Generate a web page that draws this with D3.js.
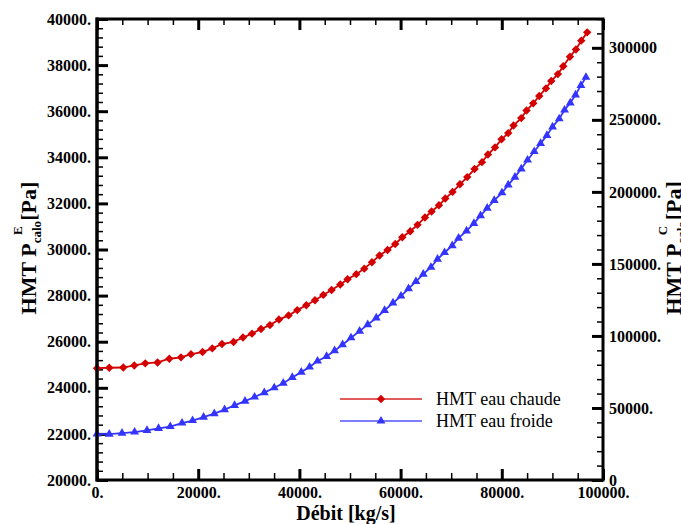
<!DOCTYPE html>
<html>
<head>
<meta charset="utf-8">
<script src="https://cdn.jsdelivr.net/npm/d3@7"></script>
<style>
  html, body { margin: 0; padding: 0; background: #fff; }
  svg { display: block; }
</style>
</head>
<body>
<svg id="chart" width="681" height="524"></svg>
<script>
// ---- data ----
const xTicks = [0, 20000, 40000, 60000, 80000, 100000];
const xTickLabels = ["0.", "20000.", "40000.", "60000.", "80000.", "100000."];
const yLeftTicks = [20000, 22000, 24000, 26000, 28000, 30000, 32000, 34000, 36000, 38000, 40000];
const yLeftTickLabels = ["20000.", "22000.", "24000.", "26000.", "28000.", "30000.", "32000.", "34000.", "36000.", "38000.", "40000."];
const yRightTicks = [0, 50000, 100000, 150000, 200000, 250000, 300000];
const yRightTickLabels = ["0", "50000.", "100000.", "150000.", "200000.", "250000.", "300000"];

const seriesNames = ["HMT eau chaude", "HMT eau froide"];

const chaudeX = [0, 2430, 5200, 7370, 9540, 11970, 14290, 16600, 18570, 20870, 22780, 24700, 26990, 28850, 30630, 32410, 34180, 35960, 37860, 39580, 41360, 43080, 44720, 46360, 48080, 49520, 51240, 52820, 54340, 55840, 57420, 58940, 60330, 61910, 63350, 64810, 66120, 67580, 68830, 70270, 71730, 73170, 74610, 76080, 77260, 78650, 79950, 81270, 82320, 83840, 84890, 86210, 87400, 88720, 89770, 91090, 92140, 93460, 94650, 95700, 96880];
const chaudeY = [24850, 24870, 24880, 24970, 25060, 25100, 25260, 25320, 25460, 25550, 25710, 25900, 25990, 26180, 26350, 26550, 26720, 26960, 27140, 27370, 27580, 27800, 28030, 28240, 28480, 28710, 28930, 29170, 29450, 29740, 29980, 30240, 30530, 30790, 31070, 31390, 31650, 31920, 32210, 32500, 32830, 33140, 33490, 33790, 34120, 34430, 34780, 35050, 35380, 35700, 36030, 36340, 36660, 36990, 37310, 37610, 37950, 38360, 38680, 39060, 39420];

const froideX = [0, 2430, 4940, 7430, 9880, 12170, 14480, 16800, 18890, 21060, 23180, 25210, 27190, 29250, 31140, 33060, 35030, 36810, 38590, 40370, 42010, 43590, 45370, 46950, 48530, 50200, 51900, 53500, 55190, 56830, 58490, 60070, 61570, 63030, 64480, 66000, 67300, 68690, 70210, 71450, 73030, 74490, 75800, 77120, 78510, 80030, 81270, 82600, 83840, 85090, 86410, 87660, 88920, 90030, 91350, 92400, 93530, 94570, 95640, 96630];
const froideY = [22000, 21990, 22030, 22080, 22150, 22240, 22320, 22470, 22580, 22730, 22880, 23050, 23240, 23420, 23600, 23790, 24000, 24200, 24450, 24680, 24900, 25160, 25360, 25610, 25870, 26170, 26460, 26740, 27030, 27360, 27680, 27980, 28300, 28610, 28930, 29230, 29580, 29870, 30170, 30490, 30810, 31130, 31470, 31790, 32130, 32460, 32800, 33140, 33500, 33880, 34250, 34600, 34950, 35320, 35670, 36050, 36360, 36710, 37120, 37470];

// ---- layout ----
const W = 681, H = 524;
const L = 97, R = 603, T = 19, B = 480;
const RED = "#d40000", BLUE = "#3434ff";
const FONT = "'Liberation Serif', 'Times New Roman', serif";

const svg = d3.select("#chart");
svg.append("rect").attr("width", W).attr("height", H).attr("fill", "#fff");

const x = d3.scaleLinear().domain([0, 100000]).range([L, R]);
const yL = d3.scaleLinear().domain([20000, 40000]).range([B, T]);
const yR = d3.scaleLinear().domain([0, 320000]).range([B, T]);

const xMinor = d3.range(0, 100001, 5000).filter(v => v % 20000 !== 0);
const yLMinor = d3.range(20000, 40001, 400).filter(v => v % 2000 !== 0);
const yRMinor = d3.range(0, 320001, 10000).filter(v => v % 50000 !== 0);

function styleAxis(g, major) {
  g.attr("font-family", null).attr("font-size", null);
  g.select(".domain").remove();
  g.selectAll(".tick line").attr("stroke", "#000").attr("stroke-width", major ? 3 : 1.5);
  g.selectAll(".tick text")
    .style("font-family", FONT).style("font-weight", "bold")
    .style("font-size", "16px").attr("fill", "#000");
}

// bottom axis (major with labels, ticks inward)
const gxB = svg.append("g").attr("transform", `translate(0,${B})`)
  .call(d3.axisBottom(x).tickValues(xTicks).tickSize(-11).tickPadding(7)
    .tickFormat((d, i) => xTickLabels[i]));
styleAxis(gxB, true);
gxB.selectAll(".tick text").attr("dy", "0.71em");
svg.append("g").attr("transform", `translate(0,${B})`)
  .call(d3.axisBottom(x).tickValues(xMinor).tickSize(-7).tickFormat(""))
  .call(g => styleAxis(g, false));

// top axis (ticks only)
svg.append("g").attr("transform", `translate(0,${T})`)
  .call(d3.axisTop(x).tickValues(xTicks).tickSize(-11).tickFormat(""))
  .call(g => styleAxis(g, true));
svg.append("g").attr("transform", `translate(0,${T})`)
  .call(d3.axisTop(x).tickValues(xMinor).tickSize(-6).tickFormat(""))
  .call(g => styleAxis(g, false));

// left axis
const gyL = svg.append("g").attr("transform", `translate(${L},0)`)
  .call(d3.axisLeft(yL).tickValues(yLeftTicks).tickSize(-11).tickPadding(6)
    .tickFormat((d, i) => yLeftTickLabels[i]));
styleAxis(gyL, true);
svg.append("g").attr("transform", `translate(${L},0)`)
  .call(d3.axisLeft(yL).tickValues(yLMinor).tickSize(-6).tickFormat(""))
  .call(g => styleAxis(g, false));

// right axis
const gyR = svg.append("g").attr("transform", `translate(${R},0)`)
  .call(d3.axisRight(yR).tickValues(yRightTicks).tickSize(-11).tickPadding(6)
    .tickFormat((d, i) => yRightTickLabels[i]));
styleAxis(gyR, true);
svg.append("g").attr("transform", `translate(${R},0)`)
  .call(d3.axisRight(yR).tickValues(yRMinor).tickSize(-6).tickFormat(""))
  .call(g => styleAxis(g, false));

// frame
svg.append("rect").attr("x", L).attr("y", T).attr("width", R - L).attr("height", B - T)
  .attr("fill", "none").attr("stroke", "#000").attr("stroke-width", 3);

// ---- series ----
const line = d3.line().x(d => x(d[0])).y(d => yL(d[1]));
const chaude = chaudeX.map((v, i) => [v, chaudeY[i]]);
const froide = froideX.map((v, i) => [v, froideY[i]]);

const diamond = "M0,-4.2L4.2,0L0,4.2L-4.2,0Z";
const triangle = d3.symbol().type(d3.symbolTriangle).size(34)();

svg.append("path").datum(chaude).attr("d", line).attr("fill", "none")
  .attr("stroke", RED).attr("stroke-width", 1.8);
svg.append("path").datum(froide).attr("d", line).attr("fill", "none")
  .attr("stroke", BLUE).attr("stroke-width", 1.8);
svg.append("g").selectAll("path").data(chaude).join("path")
  .attr("transform", d => `translate(${x(d[0])},${yL(d[1])})`)
  .attr("d", diamond).attr("fill", RED);
svg.append("g").selectAll("path").data(froide).join("path")
  .attr("transform", d => `translate(${x(d[0])},${yL(d[1])})`)
  .attr("d", triangle).attr("fill", BLUE);

// redraw left axis line on top (markers at x=0 sit under it)
svg.append("line").attr("x1", L).attr("x2", L).attr("y1", T - 1.5).attr("y2", B + 1.5)
  .attr("stroke", "#000").attr("stroke-width", 3);

// ---- legend ----
const legend = svg.append("g");
const legItems = [
  { name: seriesNames[0], color: RED, mark: diamond, y: 399 },
  { name: seriesNames[1], color: BLUE, mark: triangle, y: 421 }
];
legItems.forEach(it => {
  legend.append("line").attr("x1", 340).attr("x2", 422).attr("y1", it.y).attr("y2", it.y)
    .attr("stroke", it.color).attr("stroke-width", 1.3).attr("opacity", 0.85);
  legend.append("path").attr("transform", `translate(381,${it.y})`).attr("d", it.mark).attr("fill", it.color);
  legend.append("text").attr("x", 436).attr("y", it.y + 6)
    .style("font-family", FONT).style("font-size", "18px").attr("fill", "#000").text(it.name);
});

// ---- axis titles ----
svg.append("text").attr("x", (L + R) / 2 - 4).attr("y", 520).attr("text-anchor", "middle")
  .style("font-family", FONT).style("font-weight", "bold").style("font-size", "20px").attr("fill", "#000")
  .text("Débit [kg/s]");

function yTitle(cx, cy, sup) {
  const t = svg.append("text").attr("transform", `translate(${cx},${cy}) rotate(-90)`)
    .attr("text-anchor", "middle").style("font-family", FONT).style("font-weight", "bold")
    .style("font-size", "22px").attr("fill", "#000");
  t.append("tspan").text("HMT P");
  t.append("tspan").attr("dy", 5).style("font-size", "13px").text("calo");
  t.append("tspan").attr("dx", -14).attr("dy", -19).style("font-size", "13px").text(sup);
  t.append("tspan").attr("dy", 14).text(" [Pa]");
}
yTitle(36, 248, "E");
yTitle(681, 248, "C");
</script>
</body>
</html>
